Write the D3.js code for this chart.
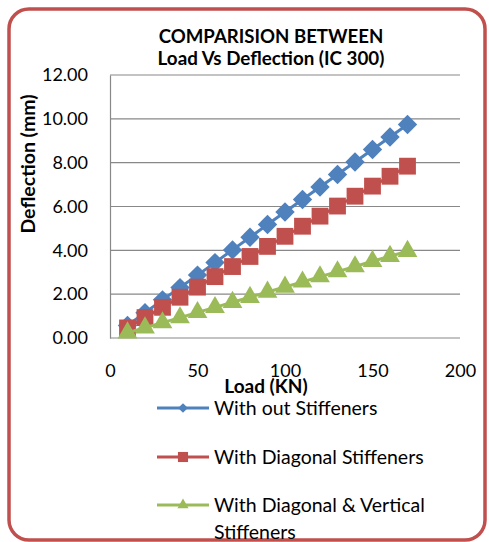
<!DOCTYPE html>
<html>
<head>
<meta charset="utf-8">
<script src="https://cdn.jsdelivr.net/npm/d3@7"></script>
<style>
  body { margin: 0; background: #fff; }
  text { font-family: Lato, "Open Sans", sans-serif; }
</style>
</head>
<body>
<svg width="489" height="542"></svg>
<script>
const svg = d3.select("svg")

const width = +svg.attr("width")
const height = +svg.attr("height")

// data
const loads = [10, 20, 30, 40, 50, 60, 70, 80, 90, 100, 110, 120, 130, 140, 150, 160, 170]
const withoutStiff = [0.57, 1.15, 1.74, 2.30, 2.87, 3.44, 4.02, 4.60, 5.18, 5.75, 6.32, 6.89, 7.46, 8.03, 8.60, 9.17, 9.74]
const diagonalStiff = [0.46, 0.93, 1.40, 1.86, 2.32, 2.80, 3.26, 3.72, 4.18, 4.64, 5.10, 5.56, 6.02, 6.47, 6.93, 7.38, 7.84]
const diagVertStiff = [0.24, 0.47, 0.70, 0.93, 1.17, 1.40, 1.63, 1.86, 2.10, 2.33, 2.56, 2.80, 3.03, 3.26, 3.50, 3.73, 3.96]
const seriesNames = ["With out Stiffeners", "With Diagonal Stiffeners", "With Diagonal & Vertical Stiffeners"]
const xTicks = [0, 50, 100, 150, 200]
const yTicks = [0, 2, 4, 6, 8, 10, 12]

const series = [
  {name: seriesNames[0], values: withoutStiff, color: "#4f81bd", symbol: d3.symbolDiamond2, size: 240, legendSize: 60},
  {name: seriesNames[1], values: diagonalStiff, color: "#c0504d", symbol: d3.symbolSquare2, size: 360, legendSize: 130},
  {name: seriesNames[2], values: diagVertStiff, color: "#9bbb59", symbol: d3.symbolTriangle2, size: 280, legendSize: 90}
]

const margin = {top: 75, right: 29, bottom: 204, left: 110}
const innerWidth = width - margin.left - margin.right
const innerHeight = height - margin.top - margin.bottom

// outer rounded frame
svg.append("rect")
    .attr("x", 9).attr("y", 9)
    .attr("width", width - 13).attr("height", height - 11)
    .attr("rx", 20).attr("ry", 20)
    .attr("fill", "#fff")
    .attr("stroke", "#c0504d")
    .attr("stroke-width", 3.5)

const xScale = d3.scaleLinear().domain([0, 200]).range([0, innerWidth])
const yScale = d3.scaleLinear().domain([0, 12]).range([innerHeight, 0])

const g = svg.append("g")
    .attr("transform", `translate(${margin.left}, ${margin.top})`)

// gridlines
g.selectAll(".grid").data(yTicks).enter().append("line")
    .attr("x1", 0).attr("x2", innerWidth)
    .attr("y1", d => yScale(d)).attr("y2", d => yScale(d))
    .attr("stroke", "#888").attr("stroke-width", 1.2)

const yAxis = g.append("g").call(d3.axisLeft(yScale).tickValues(yTicks).tickFormat(d3.format(".2f")).tickSize(0).tickPadding(22))
yAxis.select(".domain").attr("stroke", "#888").attr("stroke-width", 1.2)
yAxis.selectAll("text").attr("font-size", 18).attr("fill", "#000")
    .style("font-family", "Lato, sans-serif")

const xAxis = g.append("g")
    .attr("transform", `translate(0, ${innerHeight})`)
    .call(d3.axisBottom(xScale).tickValues(xTicks).tickSize(0).tickPadding(26))
xAxis.select(".domain").remove()
xAxis.selectAll("text").attr("font-size", 18).attr("fill", "#000")
    .style("font-family", "Lato, sans-serif")

// series
const line = d3.line()
    .x((d, i) => xScale(loads[i]))
    .y(d => yScale(d))

series.forEach(s => {
  g.append("path")
      .attr("d", line(s.values))
      .attr("fill", "none")
      .attr("stroke", s.color)
      .attr("stroke-width", 3)
  g.selectAll(null).data(s.values).enter().append("path")
      .attr("d", d3.symbol().type(s.symbol).size(s.size))
      .attr("transform", (d, i) => `translate(${xScale(loads[i])}, ${yScale(d)})`)
      .attr("fill", s.color)
})

// titles
svg.append("text")
    .attr("x", 271).attr("y", 43)
    .attr("text-anchor", "middle")
    .attr("font-size", 18.6).attr("font-weight", "bold")
    .text("COMPARISION BETWEEN")
svg.append("text")
    .attr("x", 271).attr("y", 65)
    .attr("text-anchor", "middle")
    .attr("font-size", 18.8).attr("font-weight", "bold")
    .text("Load Vs Deflection (IC 300)")

svg.append("text")
    .attr("transform", "translate(35, 164) rotate(-90)")
    .attr("text-anchor", "middle")
    .attr("font-size", 19.5).attr("font-weight", "bold")
    .text("Deflection (mm)")

svg.append("text")
    .attr("x", 266).attr("y", 393)
    .attr("text-anchor", "middle")
    .attr("font-size", 19).attr("font-weight", "bold")
    .text("Load (KN)")

// legend
const legendRows = [408, 457, 505]
const legend = svg.append("g")
series.forEach((s, i) => {
  const row = legend.append("g").attr("transform", `translate(0, ${legendRows[i]})`)
  row.append("line")
      .attr("x1", 157).attr("x2", 209)
      .attr("stroke", s.color).attr("stroke-width", 3)
  row.append("path")
      .attr("d", d3.symbol().type(s.symbol).size(s.legendSize))
      .attr("transform", "translate(183, 0)")
      .attr("fill", s.color)
  const words = i === 2 ? ["With Diagonal & Vertical", "Stiffeners"] : [s.name]
  words.forEach((w, j) => {
    row.append("text")
        .attr("x", 214).attr("y", 7 + j * 27)
        .attr("font-size", 19.5)
        .text(w)
  })
})
</script>
</body>
</html>
